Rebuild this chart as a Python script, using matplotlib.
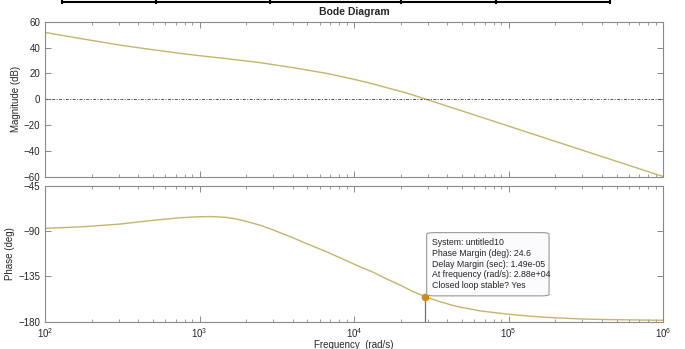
import numpy as np
import matplotlib
matplotlib.use("Agg")
import matplotlib.pyplot as plt
from matplotlib.lines import Line2D
from matplotlib.patches import FancyBboxPatch
from matplotlib.ticker import LogLocator, NullFormatter, FixedLocator

plt.rcParams['font.family'] = ['Liberation Sans', 'DejaVu Sans']
plt.rcParams['mathtext.default'] = 'regular'

# DATOS
mag_w = [100, 177, 305, 479, 748, 1000, 1500, 2466, 4050, 6650, 10000, 13340,
         17000, 21900, 29200, 46100, 100000, 205000, 432000, 865000, 1000000]
mag_db = [51.7, 46.6, 41.9, 38.6, 35.5, 33.7, 31.4, 28.3, 24.4, 20.0, 15.4, 11.8,
          8.3, 4.8, 0.0, -7.7, -20.8, -33.0, -45.6, -57.4, -59.8]

phase_w = [100, 177, 305, 479, 748, 1000, 1200, 1500, 1750, 2018, 2500, 3005,
           4000, 4940, 6500, 8110, 10940, 13340, 16000, 19860, 24000, 29200,
           36000, 46100, 65000, 100000, 150000, 205000, 300000, 432000, 1000000]
phase_deg = [-87.4, -85.7, -83.1, -79.7, -76.8, -75.8, -75.6, -76.5, -78.2, -80.5,
             -84.5, -89.0, -96.5, -102.5, -110.0, -116.5, -125.5, -131.0, -137.0,
             -143.6, -150.0, -155.4, -160.2, -164.8, -169.2, -172.6, -175.0,
             -176.2, -177.3, -177.9, -178.6]

pm_freq = 2.88e4
pm_margin = 24.6
tip_lines = ["System: untitled10",
             "Phase Margin (deg): 24.6",
             "Delay Margin (sec): 1.49e-05",
             "At frequency (rad/s): 2.88e+04",
             "Closed loop stable? Yes"]

mag_ticks = [-60, -40, -20, 0, 20, 40, 60]
phase_ticks = [-180, -135, -90, -45]
x_ticks = [1e2, 1e3, 1e4, 1e5, 1e6]
x_labels = [r'$10^{2}$', r'$10^{3}$', r'$10^{4}$', r'$10^{5}$', r'$10^{6}$']

curva = '#c4b56c'
marco = '#8a8a8a'
texto = '#262626'

fig = plt.figure(figsize=(6.85, 3.49), dpi=100)
ax1 = fig.add_axes([0.0657, 0.4937, 0.9022, 0.4441])
ax2 = fig.add_axes([0.0657, 0.0782, 0.9022, 0.3897])

for ax in (ax1, ax2):
    ax.set_xscale('log')
    ax.set_xlim(1e2, 1e6)
    ax.xaxis.set_major_locator(FixedLocator(x_ticks))
    ax.xaxis.set_minor_locator(LogLocator(base=10, subs=np.arange(2, 10)))
    ax.xaxis.set_minor_formatter(NullFormatter())
    ax.tick_params(which='both', direction='in', top=True, right=True,
                   color=marco, labelcolor=texto, labelsize=7)
    ax.tick_params(which='major', length=4, width=0.7)
    ax.tick_params(which='minor', length=2.5, width=0.6)
    for s in ax.spines.values():
        s.set_color(marco)
        s.set_linewidth(0.8)

# MAGNITUD
ax1.plot(mag_w, mag_db, color=curva, lw=1.0)
ax1.axhline(0, color='#555555', lw=0.7, ls='-.', dashes=(3, 1.5, 1, 1.5))
ax1.set_ylim(-60, 60)
ax1.set_yticks(mag_ticks)
ax1.set_xticklabels([])
ax1.set_ylabel("Magnitude (dB)", fontsize=7, color=texto, labelpad=2)
ax1.set_title("Bode Diagram", fontsize=7.5, fontweight='bold', color=texto, pad=5)

# FASE
ax2.plot(phase_w, phase_deg, color=curva, lw=1.0)
ax2.axhline(-180, color='#555555', lw=0.7, ls='-.', dashes=(3, 1.5, 1, 1.5))
ax2.set_ylim(-180, -45)
ax2.set_yticks(phase_ticks)
ax2.set_xticks(x_ticks)
ax2.set_xticklabels(x_labels)
ax2.tick_params(axis='x', pad=3)
ax2.set_ylabel("Phase (deg)", fontsize=7, color=texto, labelpad=2)
ax2.set_xlabel("Frequency  (rad/s)", fontsize=7, color=texto, labelpad=0)

# MARGEN DE FASE
pm_phase = -180 + pm_margin
ax2.plot([pm_freq, pm_freq], [-180, pm_phase], color='#707070', lw=0.9, zorder=3)
ax2.plot(pm_freq, pm_phase, 'o', color='#d08c10', ms=4.5, zorder=4)

caja = FancyBboxPatch((0.6176, 0.19), 0.198, 0.465, transform=ax2.transAxes,
                      boxstyle='round,pad=0,rounding_size=0.012',
                      facecolor='#fbfbfd', edgecolor='#9a9a9a', lw=0.8, zorder=5)
ax2.add_patch(caja)
ax2.text(0.627, 0.615, "\n".join(tip_lines), transform=ax2.transAxes,
         fontsize=6.3, color=texto, va='top', ha='left', linespacing=1.25, zorder=6)

# BORDE DE LA TABLA RECORTADA ARRIBA
W, H = 685, 349
seg = [62, 156, 270, 401, 496, 610]
fig.add_artist(Line2D([seg[0] / W, seg[-1] / W], [1 - 1.5 / H, 1 - 1.5 / H],
                      color='black', lw=1.5))
for xs in seg:
    fig.add_artist(Line2D([xs / W, xs / W], [1.0, 1 - 2.5 / H], color='black', lw=1.5))

fig.savefig("out.png", dpi=100)
